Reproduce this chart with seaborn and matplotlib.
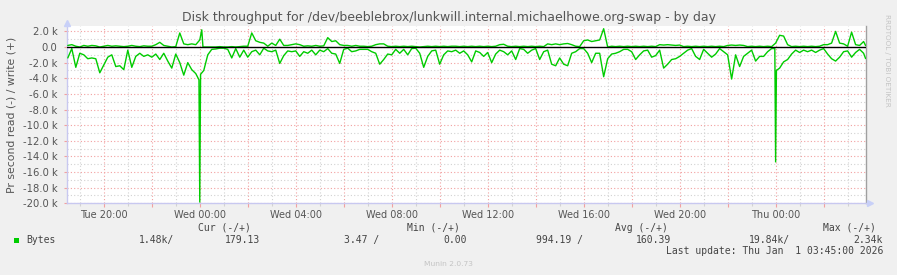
import matplotlib
matplotlib.use("Agg")
import matplotlib.pyplot as plt
import matplotlib.dates as mdates
from matplotlib.ticker import MultipleLocator, FuncFormatter
import seaborn as sns
import pandas as pd

# ---------------- data (values in k bytes / second) ----------------
grid_start = "2025-12-30 18:30"   # samples every 10 minutes
grid_step = "10min"

read_k = [
    1.4, 0.2, 2.6, 0.8, 1.0, 1.5, 1.4, 1.5, 3.3, 2.3,
    1.3, 1.0, 2.5, 2.4, 2.9, 0.4, 2.6, 1.2, 0.8, 1.2,
    1.0, 1.3, 0.9, 1.6, 0.8, 1.8, 2.7, 0.9, 2.0, 3.6,
    2.0, 2.9, 3.4, 19.84, 3.0, 1.0, 0.3, 0.25, 0.15, 0.15,
    0.3, 1.4, 0.2, 1.3, 0.4, 1.3, 0.6, 0.4, 1.0, 0.15,
    0.5, 0.6, 0.4, 2.1, 1.1, 0.5, 0.6, 0.5, 1.2, 0.6,
    0.8, 0.4, 1.0, 0.4, 0.6, 0.2, 0.8, 0.9, 2.1, 0.3,
    0.15, 0.6, 0.5,
    0.3, 0.3, 0.3, 0.6, 0.8, 2.2, 1.6, 0.9, 1.0, 0.3,
    0.8, 0.3, 1.0, 0.2, 0.15, 0.8, 2.6, 1.2, 0.5, 0.4,
    2.2, 1.0, 0.5, 0.6, 0.4, 0.8, 0.5, 1.0, 1.9, 0.5,
    0.7, 1.2, 0.7, 2.0, 0.9, 0.4, 0.6, 1.0, 0.5, 1.6,
    0.2, 0.3, 0.8, 0.4, 0.2, 1.6, 0.6, 0.4, 2.2, 2.4,
    1.4, 2.2, 2.4, 0.8, 0.6, 0.2, 0.2, 0.8, 2.0, 0.8,
    0.8, 3.8, 1.5, 0.9, 0.8, 0.6, 0.3, 0.3, 0.6, 1.6,
    1.0, 0.5, 0.4, 1.3, 1.1,
    0.4, 2.7, 2.2, 1.6, 1.5, 1.2, 0.8, 0.4, 0.2, 1.2,
    1.6, 0.3, 0.8, 1.3, 0.9, 0.2, 0.6, 1.0, 4.1, 1.0,
    2.5, 1.2, 0.8, 0.4, 1.8, 1.2, 1.2, 0.6, 0.2, 14.7,
    2.7, 1.9, 1.6, 0.9, 0.4, 0.7, 0.4, 0.6, 0.4, 0.7,
    0.4, 0.2, 0.9, 1.5, 1.8, 1.3, 0.6, 0.5, 1.3, 0.7,
    0.3, 0.8,
]

write_k = [
    0.2, 0.3, 0.1, 0.0, 0.2, 0.1, 0.2, 0.15, 0.0, 0.1,
    0.2, 0.1, 0.15, 0.1, 0.05, 0.1, 0.2, 0.1, 0.05, 0.15,
    0.1, 0.1, 0.3, 0.6, 0.2, 0.1, 0.0, 0.05, 1.8, 0.4,
    0.3, 0.4, 0.3, 0.9, 0.0, 0.0, 0.0, 0.0, 0.05, 0.0,
    0.0, 0.05, 0.0, 0.05, 0.1, 0.1, 1.8, 0.8, 0.6, 0.5,
    0.1, 0.5, 0.2, 1.0, 0.2, 0.2, 0.3, 0.4, 0.3, 0.1,
    0.15, 0.1, 0.2, 0.1, 0.15, 1.2, 0.7, 0.8, 0.3, 0.2,
    0.2, 0.1, 0.2,
    0.1, 0.1, 0.05, 0.1, 0.3, 0.4, 0.4, 0.1, 0.05, 0.1,
    0.05, 0.1, 0.05, 0.1, 0.05, 0.0, 0.05, 0.1, 0.05, 0.1,
    0.05, 0.1, 0.05, 0.1, 0.1, 0.05, 0.1, 0.05, 0.1, 0.05,
    0.1, 0.05, 0.1, 0.05, 0.1, 0.3, 0.35, 0.1, 0.05, 0.1,
    0.05, 0.1, 0.05, 0.1, 0.05, 0.1, 0.05, 0.4, 0.3, 0.4,
    0.3, 0.4, 0.45, 0.3, 0.1, 0.05, 0.8, 0.9, 0.7, 0.8,
    0.9, 2.34, 0.0, 0.1, 0.05, 0.1, 0.05, 0.1, 0.05, 0.1,
    0.05, 0.1, 0.05, 0.1, 0.05,
    0.3, 0.25, 0.3, 0.25, 0.2, 0.25, 0.05, 0.1, 0.05, 0.1,
    0.05, 0.1, 0.05, 0.1, 0.05, 0.1, 0.05, 0.2, 0.25, 0.2,
    0.25, 0.2, 0.05, 0.1, 0.05, 0.1, 0.05, 0.1, 0.05, 0.5,
    1.5, 1.4, 0.3, 0.05, 0.1, 0.05, 0.1, 0.05, 0.1, 0.05,
    0.1, 0.3, 0.3, 0.5, 2.0, 0.5, 0.4, 0.1, 1.9, 0.3,
    0.2, 0.7,
]

# extra samples around the sharp spikes and the last update
read_extra_time = ["2025-12-30 23:58", "2025-12-31 00:02",
                   "2025-12-31 23:58", "2026-01-01 00:02", "2026-01-01 03:45"]
read_extra_k = [4.2, 3.5, 0.2, 3.0, 1.48]
write_extra_time = ["2025-12-31 00:05", "2025-12-31 00:08", "2026-01-01 03:45"]
write_extra_k = [2.2, 0.0, 0.179]

title = "Disk throughput for /dev/beeblebrox/lunkwill.internal.michaelhowe.org-swap - by day"
ylabel = "Pr second read (-) / write (+)"
series_name = "Bytes"
stat_headers = ["Cur (-/+)", "Min (-/+)", "Avg (-/+)", "Max (-/+)"]
stat_values = ["1.48k/", "179.13", "3.47 /", "0.00", "994.19 /", "160.39", "19.84k/", "2.34k"]
last_update = "Last update: Thu Jan  1 03:45:00 2026"
footer = "Munin 2.0.73"
side_text = "RRDTOOL / TOBI OETIKER"

# ---------------- frames ----------------
grid_time = pd.date_range(grid_start, periods=len(read_k), freq=grid_step)
read_df = pd.concat([
    pd.DataFrame({"time": grid_time, "k": read_k}),
    pd.DataFrame({"time": pd.to_datetime(read_extra_time), "k": read_extra_k}),
]).sort_values("time").reset_index(drop=True)
read_df["value"] = -read_df["k"]
write_df = pd.concat([
    pd.DataFrame({"time": grid_time, "k": write_k}),
    pd.DataFrame({"time": pd.to_datetime(write_extra_time), "k": write_extra_k}),
]).sort_values("time").reset_index(drop=True)

# ---------------- figure ----------------
sns.set_theme(style="white")
plt.rcParams["font.family"] = ["DejaVu Sans"]

W, H = 897, 275
fig = plt.figure(figsize=(W / 100, H / 100), dpi=100, facecolor="#F0F0F0")
L, R, T, B = 67, 866, 26.3, 203.3
ax = fig.add_axes([L / W, 1 - B / H, (R - L) / W, (B - T) / H])
ax.set_facecolor("white")

GREEN = "#00CC00"
sns.lineplot(data=read_df, x="time", y="value", color=GREEN, lw=1.0,
             estimator=None, ax=ax, zorder=4)
sns.lineplot(data=write_df, x="time", y="k", color=GREEN, lw=1.0,
             estimator=None, ax=ax, zorder=4)
ax.axhline(0, color="black", lw=1.0, zorder=5)

ax.set_xlabel("")
ax.set_ylabel("")
ax.set_ylim(-20, 2.65)
ax.set_xlim(pd.Timestamp("2025-12-30 18:28"), pd.Timestamp("2026-01-01 03:46"))

ax.yaxis.set_major_locator(MultipleLocator(2))
ax.yaxis.set_minor_locator(MultipleLocator(1))
ax.yaxis.set_major_formatter(FuncFormatter(
    lambda v, p: "0.0" if abs(v) < 1e-9 else f"{v:.1f} k"))

ax.xaxis.set_major_locator(mdates.HourLocator(byhour=range(0, 24, 2)))
ax.xaxis.set_minor_locator(mdates.HourLocator(byhour=range(1, 24, 2)))


def xfmt(v, p):
    d = mdates.num2date(v)
    return d.strftime("%a %H:%M") if d.hour % 4 == 0 else ""


ax.xaxis.set_major_formatter(FuncFormatter(xfmt))

dot = (0, (1, 2))
ax.grid(which="major", color="#F2A0A0", ls=dot, lw=0.8, zorder=1)
ax.grid(which="minor", color="#D2D2D2", ls=dot, lw=0.8, zorder=1)
ax.set_axisbelow(True)

ax.tick_params(axis="x", which="major", length=3, width=0.8, color="#F2A0A0",
               labelsize=7, labelcolor="#555555", pad=2, direction="out", bottom=True)
ax.tick_params(axis="x", which="minor", length=2, width=0.8, color="#D2D2D2",
               direction="out", bottom=True)
ax.tick_params(axis="y", which="major", length=2, width=0.8, color="#F2A0A0",
               labelsize=7.2, labelcolor="#555555", pad=5, direction="out", left=True)
ax.tick_params(axis="y", which="minor", length=0)

ax.spines["top"].set_visible(False)
ax.spines["right"].set_color("#A0A0A0")
ax.spines["right"].set_linewidth(1.0)
for s in ["left", "bottom"]:
    ax.spines[s].set_color("#C8C8F0")
    ax.spines[s].set_linewidth(1.0)

# axis arrows
ax.plot([0], [1 + 3.5 / (B - T)], marker="^", ms=5, color="#C8D0F8",
        transform=ax.transAxes, clip_on=False, zorder=6)
ax.plot([1 + 4 / (R - L)], [0], marker=">", ms=5, color="#C8D0F8",
        transform=ax.transAxes, clip_on=False, zorder=6)


def px(x, y):
    return x / W, 1 - y / H


fig.text(*px(449, 17), title, ha="center", va="center", fontsize=9, color="#555555")
fig.text(*px(12, 115), ylabel, ha="center", va="center", rotation=90,
         fontsize=7.8, color="#555555")
fig.text(*px(887, 14), side_text, ha="center", va="top", rotation=270,
         fontsize=5.2, color="#C4C4C4")

mono = dict(family="DejaVu Sans Mono", fontsize=7, color="#444444", va="center")
for xh, h in zip([198, 407, 615, 823], stat_headers):
    fig.text(*px(xh, 228), h, ha="left", **mono)

fig.patches.append(plt.Rectangle(px(14, 243), 5 / W, 5 / H, transform=fig.transFigure,
                                 facecolor=GREEN, edgecolor="none"))
fig.text(*px(26, 240), series_name, ha="left", **mono)
for xr, v in zip([174, 260, 379, 467, 583, 671, 790, 883], stat_values):
    fig.text(*px(xr, 240), v, ha="right", **mono)
fig.text(*px(883, 251.5), last_update, ha="right", **mono)
fig.text(*px(448, 264), footer, ha="center", va="center", fontsize=5.4, color="#C4C4C4")

fig.savefig("out.png", dpi=100, facecolor=fig.get_facecolor())
